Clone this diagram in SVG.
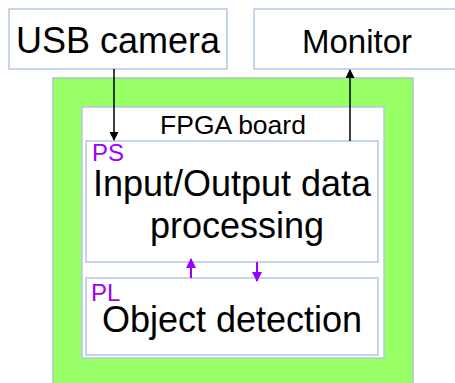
<svg xmlns="http://www.w3.org/2000/svg" width="455" height="383" viewBox="0 0 455 383">
  <style>
    .box { fill: #ffffff; stroke: #b4c7e7; stroke-width: 1.5; }
    .board { fill: #99ff66; stroke: #a9c6c0; stroke-width: 1.5; }
    .t { font-family: "Liberation Sans", Arial, sans-serif; fill: #000000; text-anchor: middle; }
    .tag { font-family: "Liberation Sans", Arial, sans-serif; fill: #9900ff; font-size: 24px; }
    .blk { stroke: #000000; stroke-width: 1.5; fill: none; }
    .pur { stroke: #9900ff; stroke-width: 2; fill: none; }
  </style>
  <defs>
    <marker id="ahBlack" viewBox="0 0 10 10" refX="9" refY="5" markerWidth="10" markerHeight="9" markerUnits="userSpaceOnUse" orient="auto">
      <path d="M0,0 L10,5 L0,10 Z" fill="#000000"/>
    </marker>
    <marker id="ahPurple" viewBox="0 0 10 10" refX="9" refY="5" markerWidth="10" markerHeight="10" markerUnits="userSpaceOnUse" orient="auto">
      <path d="M0,0 L10,5 L0,10 Z" fill="#9900ff"/>
    </marker>
  </defs>

  <g id="usb-camera">
    <rect class="box" x="9" y="9" width="218" height="60"/>
    <text class="t" x="118" y="53" font-size="36">USB camera</text>
  </g>

  <g id="monitor">
    <rect class="box" x="254" y="9" width="220" height="60"/>
    <text class="t" x="357" y="53" font-size="33">Monitor</text>
  </g>

  <g id="fpga-board">
    <rect class="board" x="53" y="78" width="360" height="320"/>
    <rect class="box" x="82" y="107" width="302" height="251"/>
    <text class="t" x="233" y="134" font-size="26.5">FPGA board</text>
  </g>

  <g id="ps">
    <rect class="box" x="86" y="141" width="292" height="121"/>
    <text class="tag" x="92" y="161">PS</text>
    <text class="t" x="232" y="196" font-size="36">Input/Output data</text>
    <text class="t" x="237" y="238" font-size="36">processing</text>
  </g>

  <g id="pl">
    <rect class="box" x="86" y="278" width="292" height="77"/>
    <text class="tag" x="91" y="301">PL</text>
    <text class="t" x="232" y="332" font-size="36">Object detection</text>
  </g>

  <g id="connectors">
    <line class="blk" x1="114" y1="69" x2="114" y2="140" marker-end="url(#ahBlack)"/>
    <line class="blk" x1="350" y1="141" x2="350" y2="70" marker-end="url(#ahBlack)"/>
    <line class="pur" x1="191" y1="278" x2="191" y2="259" marker-end="url(#ahPurple)"/>
    <line class="pur" x1="257" y1="262" x2="257" y2="281" marker-end="url(#ahPurple)"/>
  </g>
</svg>
